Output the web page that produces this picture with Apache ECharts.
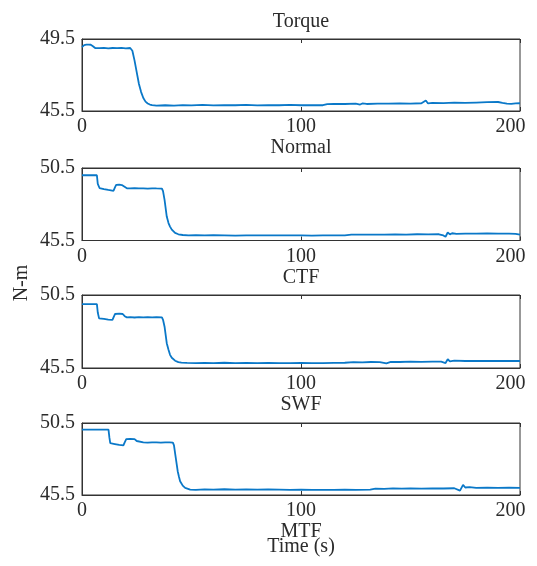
<!DOCTYPE html>
<html>
<head>
<meta charset="utf-8">
<script src="https://cdn.jsdelivr.net/npm/echarts@6/dist/echarts.min.js"></script>
<style>html,body{margin:0;padding:0;background:#fff;}#c{width:537px;height:566px;}</style>
</head>
<body>
<div id="c"></div>
<script>
// ---- data (time in s, torque in N-m) ----
const xTicks = [0, 100, 200];
const panelNames = ['Normal', 'CTF', 'SWF', 'MTF'];
const yRanges = [[45.5, 49.5], [45.5, 50.5], [45.5, 50.5], [45.5, 50.5]];

const tTorque = [0,1,2,3,4,5,6,8,10,12,14,16,18,20,22,23,24,25,26,27,28,29,30,31,32,34,38,42,46,50,55,60,65,70,75,80,85,90,95,100,105,110,112,115,120,125,127,128,130,135,140,145,150,155,157,158,160,165,170,175,180,185,190,192,194,196,198,200];
const vTorque = [49.05,49.16,49.19,49.19,49.18,49.10,49.00,48.99,49.01,48.98,49.00,48.99,49.01,48.98,49.00,48.85,48.30,47.65,47.00,46.55,46.22,46.02,45.92,45.86,45.83,45.80,45.82,45.80,45.83,45.81,45.84,45.81,45.83,45.82,45.84,45.81,45.83,45.82,45.84,45.82,45.83,45.82,45.88,45.90,45.89,45.91,45.86,45.92,45.89,45.91,45.91,45.92,45.91,45.93,46.08,45.92,45.95,45.94,45.96,45.95,45.97,45.99,46.00,45.95,45.91,45.90,45.92,45.93];

const tNormal = [0,6.8,7.2,8,10,12,14.4,15,15.6,17,18.2,19,20.5,22,24,26,28,30,32,34,36.5,37,37.7,38.7,39.5,40.2,41,42.5,44,46,48.6,52,56,60,65,70,75,80,85,90,95,100,105,110,115,120,123,128,133,138,143,148,153,158,163,165,166,167,168,169,171,175,180,185,190,195,198,200];
const vNormal = [50.00,50.00,49.40,49.12,49.05,48.99,48.93,49.15,49.33,49.35,49.32,49.20,49.10,49.09,49.11,49.09,49.10,49.08,49.10,49.09,49.08,48.90,48.30,47.15,46.70,46.46,46.25,46.02,45.93,45.88,45.86,45.87,45.85,45.87,45.86,45.84,45.86,45.85,45.86,45.85,45.86,45.85,45.84,45.86,45.85,45.86,45.91,45.90,45.91,45.90,45.92,45.91,45.93,45.92,45.93,45.85,45.76,46.05,45.92,46.00,45.95,45.98,45.97,45.99,45.98,45.97,45.96,45.90];

const tCTF = [0,6.8,7.2,7.8,10,12,13.9,14.5,15.1,17,18.6,19.5,20.5,22,24,26,28,30,32,34,36.5,37,37.7,38.7,39.5,40.2,41,42.5,44,45.4,48,52,56,60,65,70,75,80,85,90,95,100,105,110,115,120,124,128,132,136,139,141,145,150,155,160,164,166,167,168,170,175,180,185,190,195,200];
const vCTF = [49.88,49.88,49.30,48.90,48.86,48.82,48.79,49.00,49.20,49.22,49.20,49.05,48.97,48.98,48.96,48.98,48.97,48.99,48.97,48.98,48.97,48.80,48.33,47.20,46.75,46.40,46.20,46.00,45.90,45.87,45.85,45.83,45.85,45.84,45.86,45.84,45.85,45.83,45.85,45.84,45.83,45.85,45.84,45.83,45.85,45.86,45.90,45.89,45.91,45.90,45.82,45.92,45.91,45.93,45.92,45.94,45.93,45.84,46.10,45.95,46.00,45.98,45.99,45.98,45.99,45.98,45.98];

const tSWF = [0,12.1,12.5,12.9,15,17,18.9,19.5,20.2,22,24,25,25.5,28,30,32,34,36,38,40,41.5,42,42.6,43.7,44.3,44.8,46,47.1,48,49.4,52,56,60,65,70,75,80,85,90,95,100,105,110,115,120,125,131.6,134,138,142,146,150,155,160,165,170,172.6,174,175,177,180,185,190,195,200];
const vSWF = [50.04,50.04,49.50,49.10,49.04,48.98,48.94,49.15,49.38,49.40,49.38,49.25,49.15,49.16,49.14,49.16,49.15,49.14,49.16,49.15,49.14,48.95,48.30,47.15,46.75,46.46,46.15,46.00,45.93,45.88,45.86,45.89,45.87,45.90,45.88,45.89,45.87,45.89,45.88,45.86,45.87,45.85,45.86,45.85,45.87,45.86,45.88,45.94,45.93,45.96,45.94,45.95,45.94,45.96,45.95,45.97,45.80,46.20,46.02,46.05,46.00,46.01,45.99,46.01,46.00];

const seriesT = [tTorque, tNormal, tCTF, tSWF];
const seriesV = [vTorque, vNormal, vCTF, vSWF];

// ---- layout / style ----
const FONT = 'Liberation Serif';
const TXT = '#2b2b2b';
const grids = [
  {left: 82, top: 39, width: 438, height: 72},
  {left: 82, top: 168, width: 438, height: 72.5},
  {left: 82, top: 295, width: 438, height: 73},
  {left: 82, top: 423, width: 438, height: 72}
];

const option = {
  animation: false,
  backgroundColor: '#fff',
  grid: grids.map(g => Object.assign({show: true, borderColor: '#333', borderWidth: 1, backgroundColor: 'transparent'}, g)),
  xAxis: [],
  yAxis: [],
  series: [],
  graphic: [
    {type: 'text', x: 301, y: 22, style: {text: 'Torque', font: '20px "Liberation Serif"', fill: TXT, align: 'center', verticalAlign: 'middle'}},
    {type: 'text', x: 301, y: 547, style: {text: 'Time (s)', font: '20px "Liberation Serif"', fill: TXT, align: 'center', verticalAlign: 'middle'}},
    {type: 'text', x: 22, y: 283, rotation: Math.PI / 2, style: {text: 'N-m', font: '20px "Liberation Serif"', fill: TXT, align: 'center', verticalAlign: 'middle'}}
  ]
};

const nameGaps = [26, 24, 25, 23];
for (let i = 0; i < 4; i++) {
  option.xAxis.push({
    type: 'value', gridIndex: i, position: 'bottom',
    min: xTicks[0], max: xTicks[xTicks.length - 1], interval: xTicks[1] - xTicks[0],
    name: panelNames[i], nameLocation: 'middle', nameGap: nameGaps[i],
    nameTextStyle: {fontFamily: FONT, fontSize: 20, color: TXT},
    axisLine: {show: true, lineStyle: {color: '#333', width: 1}},
    axisTick: {show: true, inside: true, length: 4, lineStyle: {color: '#333'}},
    splitLine: {show: false},
    axisLabel: {
      fontFamily: FONT, fontSize: 20, color: TXT, margin: 6,
      formatter: v => (v === xTicks[xTicks.length - 1] ? '{e|' + v + '}' : String(v)),
      rich: {e: {fontFamily: FONT, fontSize: 20, color: TXT, padding: [0, 19, 0, 0]}}
    }
  });
  option.xAxis.push({
    type: 'value', gridIndex: i, position: 'top',
    min: xTicks[0], max: xTicks[xTicks.length - 1], interval: xTicks[1] - xTicks[0],
    axisLine: {show: true, lineStyle: {color: '#333', width: 1}},
    axisTick: {show: true, inside: true, length: 4, lineStyle: {color: '#333'}},
    axisLabel: {show: false}, splitLine: {show: false}
  });
  const r = yRanges[i];
  option.yAxis.push({
    type: 'value', gridIndex: i, min: r[0], max: r[1], interval: r[1] - r[0],
    axisLine: {show: true, lineStyle: {color: '#333', width: 1}},
    axisTick: {show: true, inside: true, length: 4, lineStyle: {color: '#333'}},
    splitLine: {show: false},
    axisLabel: {fontFamily: FONT, fontSize: 20, color: TXT, margin: 7, formatter: v => v.toFixed(1)}
  });
  const t = seriesT[i], v = seriesV[i];
  option.series.push({
    type: 'line', xAxisIndex: 2 * i, yAxisIndex: i,
    data: t.map((x, k) => [x, v[k]]),
    showSymbol: false, symbol: 'none',
    lineStyle: {color: '#0a78c8', width: 1.8},
    itemStyle: {color: '#0a78c8'}
  });
}

const chart = echarts.init(document.getElementById('c'), null, {renderer: 'canvas'});
chart.setOption(option);
</script>
</body>
</html>
